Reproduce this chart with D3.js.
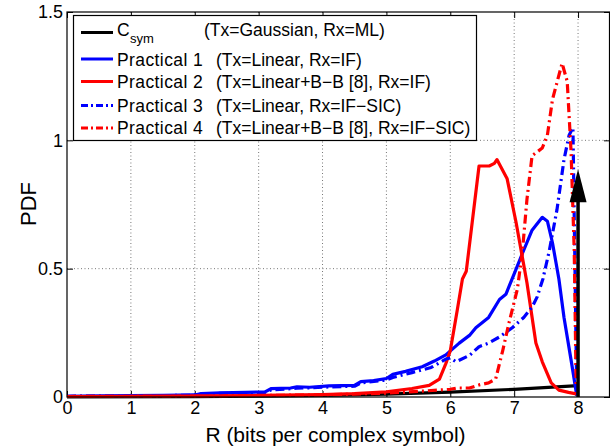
<!DOCTYPE html>
<html>
<head>
<meta charset="utf-8">
<script src="https://cdn.jsdelivr.net/npm/d3@7"></script>
<style>
  html, body { margin: 0; padding: 0; background: #fff; }
  svg { display: block; font-family: "Liberation Sans", Arial, Helvetica, sans-serif; }
</style>
</head>
<body>
<svg id="chart" width="610" height="447"></svg>
<script>
// ---- data ----
const xTicks = [0, 1, 2, 3, 4, 5, 6, 7, 8];
const yTicks = [0, 0.5, 1, 1.5];
const yTickLabels = ["0", "0.5", "1", "1.5"];

const csymR = [0, 2, 3, 4, 5, 6, 7, 8];
const csymY = [0, 0.001, 0.003, 0.006, 0.011, 0.019, 0.03, 0.044];
const arrowR = 8;
const arrowTop = 0.887;

const p1R = [0, 0.5, 1, 1.5, 2, 2.1, 2.4, 2.8, 3.1, 3.2, 3.5, 3.6, 3.8, 4.1, 4.5, 4.6, 4.8, 5.0, 5.1, 5.3, 5.56, 5.75, 5.93, 6.14, 6.3, 6.4, 6.6, 6.77, 6.87, 7.0, 7.13, 7.28, 7.44, 7.52, 7.6, 7.7, 7.78, 7.9, 7.98];
const p1Y = [0.003, 0.004, 0.005, 0.006, 0.008, 0.013, 0.016, 0.018, 0.02, 0.033, 0.035, 0.04, 0.038, 0.043, 0.045, 0.06, 0.064, 0.072, 0.088, 0.1, 0.118, 0.14, 0.164, 0.21, 0.24, 0.27, 0.31, 0.38, 0.40, 0.48, 0.56, 0.65, 0.70, 0.685, 0.60, 0.46, 0.31, 0.13, 0.005];

const p2R = [0, 1, 2, 3, 4, 4.5, 5.0, 5.4, 5.67, 5.83, 5.93, 6.0, 6.11, 6.19, 6.25, 6.45, 6.61, 6.69, 6.73, 6.89, 7.03, 7.2, 7.34, 7.44, 7.58, 7.7, 7.85, 7.97];
const p2Y = [0.002, 0.003, 0.004, 0.006, 0.009, 0.013, 0.02, 0.033, 0.045, 0.07, 0.13, 0.18, 0.34, 0.46, 0.49, 0.90, 0.90, 0.91, 0.925, 0.85, 0.68, 0.445, 0.21, 0.137, 0.055, 0.027, 0.018, 0.012];

const p3R = [0, 1, 2, 2.1, 2.4, 3.1, 3.2, 3.6, 4.1, 4.5, 4.6, 5.0, 5.1, 5.4, 5.7, 5.93, 6.0, 6.09, 6.3, 6.45, 6.6, 6.77, 6.97, 7.15, 7.28, 7.36, 7.45, 7.55, 7.67, 7.78, 7.86, 7.92, 7.98];
const p3Y = [0.003, 0.004, 0.007, 0.011, 0.014, 0.018, 0.028, 0.034, 0.039, 0.042, 0.055, 0.066, 0.076, 0.095, 0.115, 0.148, 0.152, 0.137, 0.162, 0.196, 0.21, 0.234, 0.27, 0.31, 0.35, 0.39, 0.46, 0.57, 0.73, 0.925, 1.02, 1.05, 0.01];

const p4R = [0, 1, 2, 3, 4, 5, 5.5, 6.0, 6.1, 6.3, 6.45, 6.6, 6.71, 6.82, 6.92, 7.05, 7.13, 7.2, 7.28, 7.44, 7.52, 7.6, 7.75, 7.83, 7.89, 7.94, 7.97];
const p4Y = [0.002, 0.003, 0.004, 0.006, 0.008, 0.015, 0.022, 0.03, 0.035, 0.035, 0.047, 0.055, 0.07, 0.18, 0.29, 0.42, 0.57, 0.77, 0.94, 0.97, 1.02, 1.16, 1.30, 1.23, 0.96, 0.57, 0.05];

const seriesNames = ["C", "Practical 1", "Practical 2", "Practical 3", "Practical 4"];
const seriesNotes = ["(Tx=Gaussian, Rx=ML)", "(Tx=Linear, Rx=IF)", "(Tx=Linear+B\u2212B [8], Rx=IF)", "(Tx=Linear, Rx=IF\u2212SIC)", "(Tx=Linear+B\u2212B [8], Rx=IF\u2212SIC)"];
const seriesColors = ["#000000", "#0000ff", "#ff0000", "#0000ff", "#ff0000"];
const seriesDash = [null, null, null, "9,4,2,4", "9,4,2,4"];

const xLabel = "R (bits per complex symbol)";
const yLabel = "PDF";

// ---- layout ----
const svg = d3.select("#chart");
const L = 67, R = 610, T = 12, B = 397;
const x = d3.scaleLinear().domain([0, 8.5]).range([L, R]);
const y = d3.scaleLinear().domain([0, 1.5]).range([B, T]);

const g = svg.append("g");

// grid
g.append("g").selectAll("line").data(xTicks.filter(d => d > 0)).join("line")
  .attr("x1", d => x(d)).attr("x2", d => x(d)).attr("y1", T).attr("y2", B)
  .attr("stroke", "#777").attr("stroke-width", 1).attr("stroke-dasharray", "1,2.5");
g.append("g").selectAll("line").data(yTicks.filter(d => d > 0 && d < 1.5)).join("line")
  .attr("x1", L).attr("x2", R).attr("y1", d => y(d)).attr("y2", d => y(d))
  .attr("stroke", "#777").attr("stroke-width", 1).attr("stroke-dasharray", "1,2.5");

// axes with inward ticks
const tickLen = 6;
const axB = d3.axisBottom(x).tickValues(xTicks).tickSizeInner(-tickLen).tickSizeOuter(0).tickPadding(4).tickFormat(d3.format("d"));
const axT = d3.axisTop(x).tickValues(xTicks).tickSizeInner(-tickLen).tickSizeOuter(0).tickFormat("");
const axL = d3.axisLeft(y).tickValues(yTicks).tickSizeInner(-tickLen).tickSizeOuter(0).tickPadding(4).tickFormat((d, i) => yTickLabels[i]);
const axR = d3.axisRight(y).tickValues(yTicks).tickSizeInner(-tickLen).tickSizeOuter(0).tickFormat("");

function styleAxis(sel) {
  sel.select(".domain").remove();
  sel.selectAll(".tick line").attr("stroke", "#000").attr("stroke-width", 1);
  sel.selectAll("text").attr("fill", "#000").style("font-size", "18px").style("font-family", "'Liberation Sans', Arial, sans-serif");
}
g.append("g").attr("transform", `translate(0,${B})`).call(axB).call(styleAxis);
g.append("g").attr("transform", `translate(0,${T})`).call(axT).call(styleAxis);
g.append("g").attr("transform", `translate(${L},0)`).call(axL).call(styleAxis);
g.append("g").attr("transform", `translate(${R},0)`).call(axR).call(styleAxis);

// data lines
const line = d3.line().x(d => x(d[0])).y(d => y(d[1]));
const seriesData = [
  d3.zip(csymR, csymY),
  d3.zip(p1R, p1Y),
  d3.zip(p2R, p2Y),
  d3.zip(p3R, p3Y),
  d3.zip(p4R, p4Y)
];
seriesData.forEach((data, i) => {
  g.append("path").datum(data).attr("d", line)
    .attr("fill", "none").attr("stroke", seriesColors[i]).attr("stroke-width", 3.2)
    .attr("stroke-linejoin", "round")
    .attr("stroke-dasharray", seriesDash[i]);
});

// arrow (delta at R=8)
const headH = 33, headW = 17;
const tipY = y(arrowTop);
g.append("line").attr("x1", x(arrowR)).attr("x2", x(arrowR)).attr("y1", y(0)).attr("y2", tipY + headH - 2)
  .attr("stroke", "#000").attr("stroke-width", 3.5);
g.append("path")
  .attr("d", `M${x(arrowR)},${tipY} L${x(arrowR) - headW / 2},${tipY + headH} L${x(arrowR) + headW / 2},${tipY + headH} Z`)
  .attr("fill", "#000");

// plot border
g.append("rect").attr("x", L).attr("y", T).attr("width", R - L - 0.5).attr("height", B - T)
  .attr("fill", "none").attr("stroke", "#000").attr("stroke-width", 1.2);

// axis labels
svg.append("text").attr("x", (L + R) / 2 - 3).attr("y", 442).attr("text-anchor", "middle")
  .style("font-size", "21px").text(xLabel);
svg.append("text").attr("transform", "translate(36,204) rotate(-90)").attr("text-anchor", "middle")
  .style("font-size", "22px").text(yLabel);

// legend
const lg = svg.append("g");
lg.append("rect").attr("x", 73.5).attr("y", 15.5).attr("width", 403).attr("height", 125)
  .attr("fill", "#fff").attr("stroke", "#000").attr("stroke-width", 1.2);
const rowLineY = [32.5, 59, 81.5, 105.5, 128];
const rowBase = [35.5, 66, 88, 111.5, 133.5];
const noteX = [204, 216, 216, 216, 216];
seriesNames.forEach((name, i) => {
  lg.append("line").attr("x1", 81).attr("x2", 113).attr("y1", rowLineY[i]).attr("y2", rowLineY[i])
    .attr("stroke", seriesColors[i]).attr("stroke-width", 3)
    .attr("stroke-dasharray", seriesDash[i] ? "7,3,2,3" : null);
  const t = lg.append("text").attr("x", 117).attr("y", rowBase[i]).style("font-size", "17.5px")
    .style("letter-spacing", "0.4px");
  t.append("tspan").text(name);
  if (i === 0) {
    t.append("tspan").attr("dy", 7).style("font-size", "13px").style("letter-spacing", "0px").text("sym");
  }
  lg.append("text").attr("x", noteX[i]).attr("y", rowBase[i]).style("font-size", "17.5px").text(seriesNotes[i]);
});
</script>
</body>
</html>
